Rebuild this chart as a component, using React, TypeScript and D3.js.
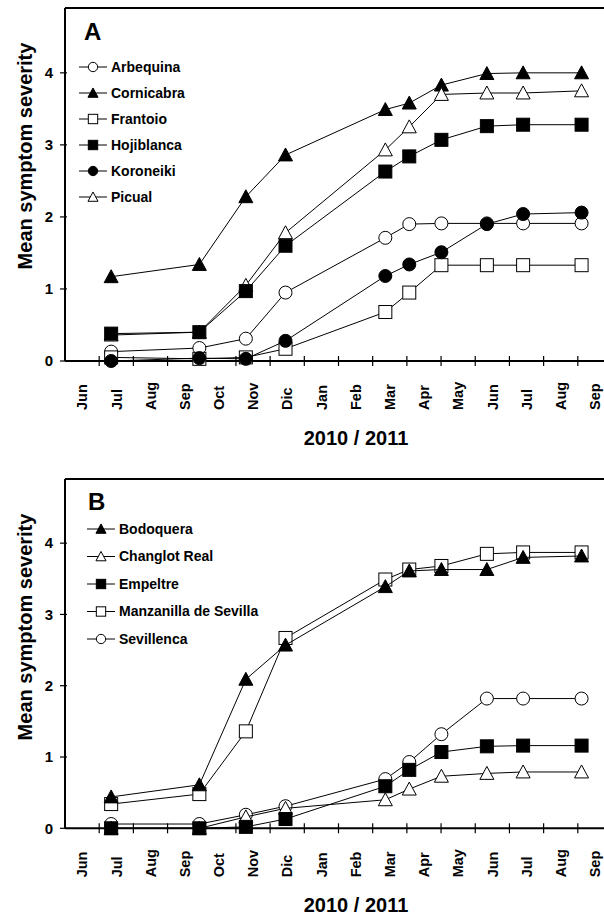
import React from "react";
import * as d3 from "d3";

// month axis (Jun 2010 .. Sep 2011), one band per month
const monthLabels = ["Jun", "Jul", "Aug", "Sep", "Oct", "Nov", "Dic", "Jan", "Feb", "Mar", "Apr", "May", "Jun", "Jul", "Aug", "Sep"];
// sampling dates, in months since 1 Jun 2010
const sampleMonths = [1.35, 3.93, 5.29, 6.45, 9.37, 10.07, 11.01, 12.34, 13.4, 15.11];
const yTicks = [0, 1, 2, 3, 4];

// panel A
const arbequina = [0.13, 0.18, 0.31, 0.95, 1.71, 1.9, 1.91, 1.91, 1.91, 1.91];
const cornicabra = [1.17, 1.34, 2.28, 2.86, 3.49, 3.58, 3.83, 3.99, 4.0, 4.0];
const frantoio = [0.05, 0.03, 0.05, 0.17, 0.68, 0.95, 1.33, 1.33, 1.33, 1.33];
const hojiblanca = [0.38, 0.4, 0.97, 1.6, 2.63, 2.84, 3.07, 3.26, 3.28, 3.28];
const koroneiki = [0.0, 0.04, 0.03, 0.28, 1.18, 1.34, 1.51, 1.9, 2.04, 2.06];
const picual = [0.36, 0.4, 1.05, 1.78, 2.93, 3.25, 3.7, 3.72, 3.72, 3.75];

// panel B
const bodoquera = [0.44, 0.61, 2.09, 2.57, 3.39, 3.61, 3.63, 3.63, 3.8, 3.82];
const changlotReal = [0.0, 0.0, 0.16, 0.28, 0.4, 0.55, 0.73, 0.77, 0.79, 0.79];
const empeltre = [0.0, 0.0, 0.02, 0.13, 0.59, 0.82, 1.07, 1.15, 1.16, 1.16];
const manzanilla = [0.34, 0.48, 1.36, 2.67, 3.49, 3.63, 3.68, 3.85, 3.87, 3.87];
const sevillenca = [0.06, 0.06, 0.19, 0.31, 0.69, 0.93, 1.32, 1.82, 1.82, 1.82];

type Shape = "circle" | "triangle" | "square";
type Series = { name: string; values: number[]; shape: Shape; filled: boolean };

// legend order
const seriesA: Series[] = [
  { name: "Arbequina", values: arbequina, shape: "circle", filled: false },
  { name: "Cornicabra", values: cornicabra, shape: "triangle", filled: true },
  { name: "Frantoio", values: frantoio, shape: "square", filled: false },
  { name: "Hojiblanca", values: hojiblanca, shape: "square", filled: true },
  { name: "Koroneiki", values: koroneiki, shape: "circle", filled: true },
  { name: "Picual", values: picual, shape: "triangle", filled: false },
];
const drawOrderA = ["Arbequina", "Cornicabra", "Frantoio", "Picual", "Hojiblanca", "Koroneiki"];

const seriesB: Series[] = [
  { name: "Bodoquera", values: bodoquera, shape: "triangle", filled: true },
  { name: "Changlot Real", values: changlotReal, shape: "triangle", filled: false },
  { name: "Empeltre", values: empeltre, shape: "square", filled: true },
  { name: "Manzanilla de Sevilla", values: manzanilla, shape: "square", filled: false },
  { name: "Sevillenca", values: sevillenca, shape: "circle", filled: false },
];
const drawOrderB = ["Sevillenca", "Changlot Real", "Manzanilla de Sevilla", "Empeltre", "Bodoquera"];

const FONT = "'Liberation Sans', Arial, Helvetica, sans-serif";

function Marker({ x, y, shape, filled, s = 1 }: { x: number; y: number; shape: Shape; filled: boolean; s?: number }) {
  const fill = filled ? "#000" : "#fff";
  if (shape === "circle")
    return <circle cx={x} cy={y} r={6.5 * s} fill={fill} stroke="#000" strokeWidth={1} />;
  if (shape === "square")
    return <rect x={x - 6.5 * s} y={y - 6.5 * s} width={13 * s} height={13 * s} fill={fill} stroke="#000" strokeWidth={1} />;
  const h = 7 * s;
  return (
    <path
      d={`M${x},${y - h}L${x + h},${y + h * 0.85}L${x - h},${y + h * 0.85}Z`}
      fill={fill}
      stroke="#000"
      strokeWidth={1}
    />
  );
}

type PanelProps = {
  letter: string;
  top: number;
  zero: number;
  series: Series[];
  order: string[];
  legend: { x1: number; x2: number; mx: number; tx: number; y0: number; dy: number; letterX: number; letterY: number };
};

function Panel({ letter, top, zero, series, order, legend }: PanelProps) {
  const x = d3.scaleLinear().domain([0, 16]).range([65, 612]);
  const y = d3.scaleLinear().domain([0, 4.9]).range([zero, top]);
  const line = d3
    .line<number>()
    .x((d, i) => x(sampleMonths[i]))
    .y((d) => y(d));
  const left = x(0);
  const ordered = order.map((n) => series.find((s) => s.name === n)!);

  return (
    <g>
      {/* frame: top, left, and zero line */}
      <line x1={left} x2={610} y1={top} y2={top} stroke="#000" strokeWidth={2} />
      <line x1={left} x2={left} y1={top} y2={zero} stroke="#000" strokeWidth={2} />
      <line x1={left} x2={610} y1={zero} y2={zero} stroke="#000" strokeWidth={2} />

      {yTicks.map((t) => (
        <g key={"y" + t}>
          <line x1={left - 5} x2={left + 2} y1={y(t)} y2={y(t)} stroke="#000" strokeWidth={1.2} />
          <text x={left - 12} y={y(t)} dy="0.35em" textAnchor="end" fontSize={15} fontWeight="bold" fontFamily={FONT}>
            {t}
          </text>
        </g>
      ))}

      {d3.range(1, 17).map((m) => (
        <line key={"xt" + m} x1={x(m)} x2={x(m)} y1={zero - 5} y2={zero + 5} stroke="#000" strokeWidth={1.2} />
      ))}
      {monthLabels.map((lab, i) => (
        <text
          key={"m" + i}
          transform={`translate(${x(i + 0.5)},${zero + 49}) rotate(-90)`}
          dy="0.36em"
          textAnchor="start"
          fontSize={14.5}
          fontWeight="bold"
          fontFamily={FONT}
        >
          {lab}
        </text>
      ))}

      <text x={356} y={zero + 84} textAnchor="middle" fontSize={20} fontWeight="bold" fontFamily={FONT}>
        2010 / 2011
      </text>
      <text
        transform={`translate(32,${top + 148}) rotate(-90)`}
        textAnchor="middle"
        fontSize={20}
        fontWeight="bold"
        fontFamily={FONT}
      >
        Mean symptom severity
      </text>

      <text x={legend.letterX} y={legend.letterY} fontSize={24} fontWeight="bold" fontFamily={FONT}>
        {letter}
      </text>

      {series.map((s, i) => {
        const ly = legend.y0 + i * legend.dy;
        return (
          <g key={"lg" + s.name}>
            <line x1={legend.x1} x2={legend.x2} y1={ly} y2={ly} stroke="#000" strokeWidth={1} />
            <Marker x={legend.mx} y={ly} shape={s.shape} filled={s.filled} s={0.72} />
            <text x={legend.tx} y={ly} dy="0.35em" fontSize={14} fontWeight="bold" fontFamily={FONT}>
              {s.name}
            </text>
          </g>
        );
      })}

      {ordered.map((s) => (
        <g key={"s" + s.name}>
          <path d={line(s.values) || ""} fill="none" stroke="#000" strokeWidth={1} />
          {s.values.map((v, i) => (
            <Marker key={i} x={x(sampleMonths[i])} y={y(v)} shape={s.shape} filled={s.filled} />
          ))}
        </g>
      ))}
    </g>
  );
}

export default function App() {
  return (
    <div style={{ position: "absolute", left: 0, top: 0, width: 604, height: 920, background: "#fff" }}>
      <svg width={604} height={920} style={{ display: "block" }}>
        <rect width={604} height={920} fill="#fff" />
        <Panel
          letter="A"
          top={8}
          zero={361}
          series={seriesA}
          order={drawOrderA}
          legend={{ x1: 79, x2: 107, mx: 93, tx: 111, y0: 67, dy: 26, letterX: 84, letterY: 40 }}
        />
        <Panel
          letter="B"
          top={479}
          zero={828.3}
          series={seriesB}
          order={drawOrderB}
          legend={{ x1: 87, x2: 115, mx: 101, tx: 119, y0: 529, dy: 27.5, letterX: 88, letterY: 510 }}
        />
      </svg>
    </div>
  );
}
